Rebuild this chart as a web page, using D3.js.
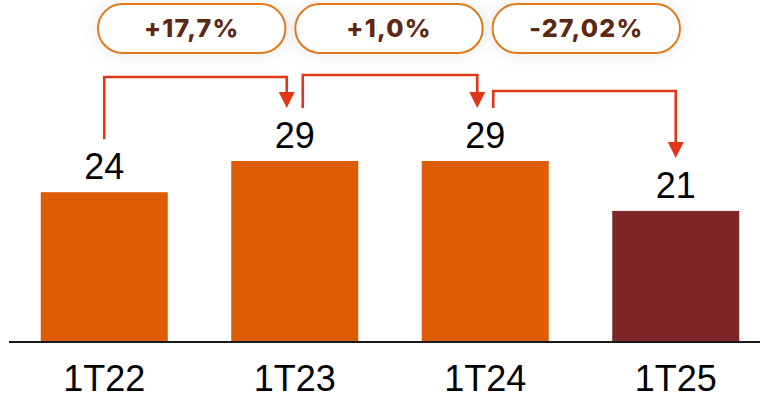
<!DOCTYPE html>
<html>
<head>
<meta charset="utf-8">
<script src="https://cdn.jsdelivr.net/npm/d3@7"></script>
<style>
  html, body { margin: 0; padding: 0; background: #fff; }
  svg { display: block; }
</style>
</head>
<body>
<svg id="chart" width="760" height="396"></svg>
<script>
// Quarterly values (first quarter of each year)
const categories = ["1T22", "1T23", "1T24", "1T25"];
const values = [24, 29, 29, 21];
// Year-over-year change shown above each pair of bars
const changes = ["+17,7%", "+1,0%", "-27,02%"];

const W = 760, H = 396;
const svg = d3.select("#chart");

const barColor = i => i === categories.length - 1 ? "#7f2628" : "#dd5c05";
const arrowColor = "#e03718";

const x = d3.scaleBand()
  .domain(categories)
  .range([9, 771])
  .paddingInner(1 / 3)
  .paddingOuter(1 / 6);

const baseline = 342;
const y = d3.scaleLinear().domain([0, 29]).range([baseline, 161]);

const defs = svg.append("defs");
const shadow = defs.append("filter")
  .attr("id", "pillShadow")
  .attr("x", "-30%").attr("y", "-80%")
  .attr("width", "160%").attr("height", "260%");
shadow.append("feGaussianBlur").attr("in", "SourceAlpha").attr("stdDeviation", 9).attr("result", "b");
shadow.append("feFlood").attr("flood-color", "#000").attr("flood-opacity", 0.09).attr("result", "c");
shadow.append("feComposite").attr("in", "c").attr("in2", "b").attr("operator", "in").attr("result", "s");
const merge = shadow.append("feMerge");
merge.append("feMergeNode").attr("in", "s");
merge.append("feMergeNode").attr("in", "SourceGraphic");

// Bars
svg.append("g").selectAll("rect")
  .data(values)
  .join("rect")
  .attr("x", (d, i) => x(categories[i]))
  .attr("y", d => y(d))
  .attr("width", x.bandwidth())
  .attr("height", d => baseline - y(d))
  .attr("fill", (d, i) => barColor(i));

// Value labels
svg.append("g").selectAll("text")
  .data(values)
  .join("text")
  .attr("x", (d, i) => x(categories[i]) + x.bandwidth() / 2)
  .attr("y", d => y(d) - 13)
  .attr("text-anchor", "middle")
  .attr("font-family", "'Liberation Sans', Arial, sans-serif")
  .attr("font-size", 36)
  .attr("fill", "#000")
  .text(d => d3.format("d")(Math.round(d)));

// Category axis
const xAxis = d3.axisBottom(x).tickSize(0).tickPadding(23);
const ax = svg.append("g")
  .attr("transform", `translate(0,${baseline})`)
  .call(xAxis);
ax.select(".domain").remove();
ax.selectAll("text")
  .attr("font-family", "'Liberation Sans', Arial, sans-serif")
  .attr("font-size", 36)
  .attr("fill", "#000");
svg.append("line")
  .attr("x1", 9).attr("x2", W)
  .attr("y1", baseline).attr("y2", baseline)
  .attr("stroke", "#1a1a1a").attr("stroke-width", 2);

// Connectors between consecutive bars
const levels = [77, 75, 91];
const cx = i => x(categories[i]) + x.bandwidth() / 2;
const tipY = i => y(values[i]) - 53;
const n = categories.length;
const conn = svg.append("g");
changes.forEach((c, i) => {
  const x0 = cx(i) + (i > 0 ? 8 : 0);
  const x1 = cx(i + 1) + (i + 1 < n - 1 ? -8 : 0);
  const y0 = tipY(i);
  const y1 = tipY(i + 1);
  const lv = levels[i];
  const head = 16;
  conn.append("path")
    .attr("d", d3.line()([[x0, y0], [x0, lv], [x1, lv], [x1, y1 - head + 1]]))
    .attr("fill", "none")
    .attr("stroke", arrowColor)
    .attr("stroke-width", 2.6);
  conn.append("path")
    .attr("d", d3.line()([[x1 - 8, y1 - head], [x1 + 8, y1 - head], [x1, y1]]) + "Z")
    .attr("fill", arrowColor);
});

// Change pills
const px = d3.scaleBand()
  .domain(changes.map((d, i) => i))
  .range([98, 680])
  .paddingInner(0.05);
const pills = svg.append("g").selectAll("g")
  .data(changes)
  .join("g")
  .attr("transform", (d, i) => `translate(${px(i)},4)`);
pills.append("rect")
  .attr("width", px.bandwidth())
  .attr("height", 49)
  .attr("rx", 24.5)
  .attr("fill", "#fff")
  .attr("stroke", "#e07a1e")
  .attr("stroke-width", 2)
  .attr("filter", "url(#pillShadow)");
pills.append("text")
  .attr("x", px.bandwidth() / 2)
  .attr("y", 32.5)
  .attr("text-anchor", "middle")
  .attr("font-family", "Inter, 'Open Sans', sans-serif")
  .attr("font-weight", 800)
  .attr("font-size", 25)
  .attr("letter-spacing", 1.2)
  .attr("fill", "#5b2812")
  .text(d => d);
</script>
</body>
</html>
